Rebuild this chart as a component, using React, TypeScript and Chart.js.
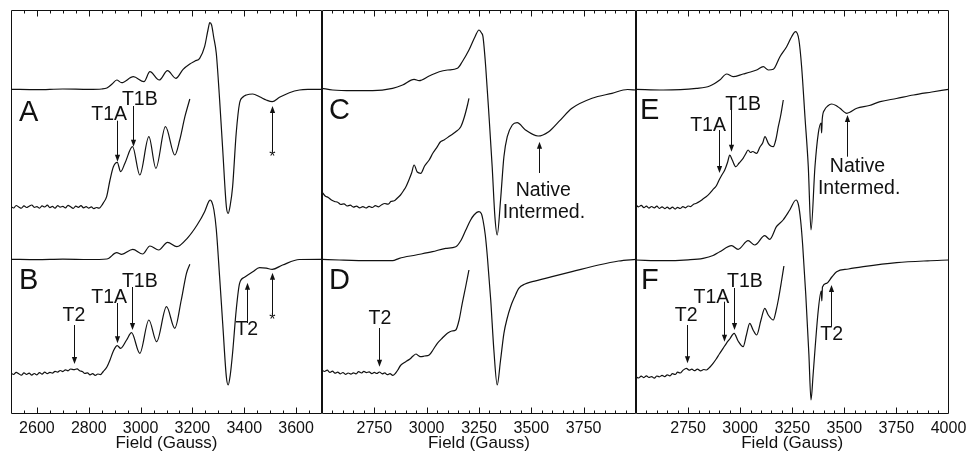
import React, { useEffect, useRef } from "react";
import { Chart, registerables } from "chart.js";

Chart.register(...registerables);

type Pt = [number, number];

// ---------- Panel 1 (spectra A and B), field in Gauss, signal in arbitrary units ----------
const A_FULL: Pt[] = [
  [2500, 325.7], [2600, 325.4], [2700, 326], [2800, 325.6], [2850, 326], [2870, 327],
  [2890, 331], [2908, 335], [2927, 332.3], [2972, 338.3], [3013, 333.3], [3036, 343.3],
  [3072, 335], [3104, 344.3], [3136, 336.7], [3164, 345.7], [3190, 351], [3210, 354],
  [3228, 356.7], [3247, 368.3], [3260, 385], [3267, 392.3], [3274, 390], [3282, 378],
  [3292, 362], [3305, 315], [3317, 265], [3331, 208.3], [3338, 201.7], [3346, 210],
  [3355, 228], [3369, 282], [3382, 312], [3395, 318], [3408, 320], [3433, 321],
  [3459, 318.3], [3485, 315], [3508, 313.3], [3536, 317.7], [3574, 322.3], [3613, 325],
  [3650, 325.6], [3700, 325.7],
];
const A_EXPANDED: Pt[] = [
  [2500, 208.5], [2510, 207], [2520, 209.5], [2530, 208], [2540, 206.8], [2550, 209.2],
  [2560, 207.5], [2570, 208.8], [2580, 210], [2590, 207.6], [2600, 208.4], [2610, 206.9],
  [2620, 209.1], [2630, 208], [2640, 209.8], [2650, 207.4], [2660, 208.6], [2670, 206.8],
  [2680, 209.4], [2690, 207.9], [2700, 208.7], [2710, 207.1], [2720, 209.6], [2730, 208.2],
  [2740, 206.6], [2750, 208.9], [2760, 207.7], [2770, 209.3], [2780, 207.2], [2790, 208.4],
  [2800, 206.9], [2810, 208.1], [2820, 206.3], [2830, 207.5], [2840, 206.8], [2850, 209.5],
  [2856, 212], [2869, 218.3], [2882, 235], [2895, 248.3], [2910, 252.7], [2923, 243.3],
  [2940, 252], [2969, 268.3], [2997, 240], [3032, 278.3], [3059, 246.7], [3096, 288.3],
  [3132, 260], [3151, 275], [3171, 298.3], [3190, 316],
];
const B_FULL: Pt[] = [
  [2500, 155.7], [2600, 155.4], [2700, 155.9], [2800, 155.5], [2870, 156], [2908, 162.3],
  [2927, 160.7], [2970, 165.7], [3008, 161], [3036, 169], [3070, 165], [3104, 172.7],
  [3140, 168.3], [3180, 176.7], [3218, 190], [3247, 203.3], [3262, 213], [3268, 215],
  [3275, 213], [3283, 205], [3292, 186], [3305, 138], [3317, 91], [3331, 38], [3338, 30],
  [3346, 40], [3355, 62], [3369, 105], [3382, 131.7], [3401, 137.7], [3433, 143.3],
  [3459, 147.3], [3485, 146.8], [3508, 145.7], [3548, 150], [3613, 155.5], [3700, 155.7],
];
const B_EXPANDED: Pt[] = [
  [2500, 42], [2510, 40.5], [2520, 42.6], [2530, 41.2], [2540, 39.8], [2550, 42.1],
  [2560, 40.6], [2570, 41.9], [2580, 39.9], [2590, 41.5], [2600, 40.2], [2610, 42.4],
  [2620, 40.8], [2630, 42.9], [2640, 41.3], [2650, 42.6], [2660, 41.8], [2670, 43.7],
  [2680, 42.9], [2690, 44.5], [2700, 43.4], [2710, 45.2], [2720, 44.1], [2730, 46],
  [2743, 45.3], [2755, 46.2], [2765, 44.3], [2775, 43.5], [2785, 41.6], [2795, 42.2],
  [2805, 40.1], [2815, 41.3], [2825, 39.7], [2835, 41], [2845, 40.4], [2856, 43.5],
  [2870, 48], [2882, 55], [2895, 64], [2910, 69.3], [2923, 66.7], [2946, 75], [2965, 82.3],
  [2997, 61.7], [3032, 95], [3062, 73.3], [3100, 108.3], [3132, 86.7], [3157, 115],
  [3177, 141.7], [3190, 150.7],
];

// ---------- Panel 2 (spectra C and D) ----------
const C_FULL: Pt[] = [
  [2500, 326.7], [2551, 325], [2647, 324.3], [2742, 324.3], [2837, 326.7], [2885, 330],
  [2940, 335.7], [2964, 334.3], [3012, 339], [3060, 343.3], [3100, 345], [3147, 346.7],
  [3170, 353.3], [3202, 365], [3231, 378.3], [3250, 385], [3262, 382], [3269, 378.3],
  [3282, 348.3], [3298, 298.3], [3313, 248.3], [3326, 198.3], [3337, 180], [3353, 215],
  [3369, 258.3], [3385, 278.3], [3409, 290], [3432, 292.3], [3472, 285], [3532, 279],
  [3583, 283.3], [3631, 293.3], [3694, 306.7], [3790, 316.7], [3885, 321.7], [3960, 325.5],
  [4000, 325],
];
const C_EXPANDED: Pt[] = [
  [2500, 223], [2515, 219], [2530, 217.5], [2545, 215], [2560, 213.5], [2575, 212.8],
  [2590, 210.5], [2605, 211.2], [2620, 209], [2635, 209.8], [2650, 207.9], [2665, 208.8],
  [2680, 207.2], [2695, 208.4], [2710, 207], [2725, 208.6], [2740, 207.5], [2755, 209.3],
  [2770, 208.2], [2785, 210.3], [2800, 211.5], [2815, 210.8], [2830, 213.6], [2845, 214.2],
  [2860, 217], [2875, 220], [2890, 224.5], [2901, 228.3], [2915, 235], [2928, 242],
  [2940, 250], [2955, 243], [2972, 241.7], [2990, 249], [3012, 255], [3030, 262],
  [3051, 268.3], [3065, 273], [3083, 275], [3110, 279], [3139, 283.3], [3163, 288.3],
  [3180, 298], [3195, 310], [3202, 316.7],
];
const D_FULL: Pt[] = [
  [2500, 155.7], [2583, 155], [2726, 154.3], [2837, 154.3], [2869, 156.7], [2949, 160],
  [3028, 163.3], [3091, 166.7], [3139, 168.3], [3165, 175], [3187, 185], [3210, 195],
  [3226, 200], [3250, 203.3], [3262, 201], [3269, 195], [3280, 180], [3290, 158.3],
  [3306, 115], [3321, 65], [3337, 30], [3353, 55], [3369, 81.7], [3385, 97], [3401, 108.3],
  [3420, 118], [3440, 126.7], [3470, 131], [3504, 133.3], [3599, 138.3], [3694, 143.3],
  [3821, 150], [3917, 154], [4000, 155.7],
];
const D_EXPANDED: Pt[] = [
  [2500, 45], [2512, 43.5], [2525, 44.8], [2538, 42.6], [2550, 43.9], [2562, 41.8],
  [2575, 42.9], [2588, 41.2], [2600, 42.5], [2612, 40.6], [2625, 42], [2638, 40.9],
  [2650, 42.2], [2662, 41.1], [2675, 43.3], [2688, 42], [2700, 43.6], [2712, 42.4],
  [2725, 43.1], [2738, 41.3], [2750, 42.6], [2762, 41.5], [2774, 43], [2788, 41.2],
  [2800, 42.1], [2812, 40.3], [2825, 41.4], [2838, 39.7], [2850, 41.5], [2862, 45],
  [2875, 49.5], [2890, 52], [2905, 54], [2920, 56], [2935, 59], [2949, 61], [2960, 59.5],
  [2972, 58.3], [2990, 59], [3012, 60], [3030, 65], [3051, 71.7], [3075, 77], [3099, 81.7],
  [3120, 84], [3139, 85], [3155, 95], [3170, 111.7], [3186, 128], [3202, 145],
];

// ---------- Panel 3 (spectra E and F) ----------
const E_FULL: Pt[] = [
  [2500, 325.7], [2630, 325], [2790, 326.7], [2854, 329], [2902, 335], [2935, 341],
  [2966, 338.3], [3014, 341], [3050, 343], [3079, 345], [3111, 348.3], [3135, 345],
  [3159, 345.7], [3191, 358.3], [3223, 368.3], [3247, 378.3], [3266, 383.3], [3282, 375],
  [3295, 348.3], [3311, 298.3], [3327, 248.3], [3340, 185], [3359, 248.3], [3375, 281.7],
  [3388, 292], [3391, 282], [3394, 296], [3405, 305], [3420, 309], [3439, 311],
  [3460, 309.5], [3479, 306.7], [3512, 301.7], [3560, 306.7], [3620, 309.5], [3672, 313.3],
  [3750, 316.5], [3832, 320], [3920, 323], [4000, 325.7],
];
const E_EXPANDED: Pt[] = [
  [2500, 210], [2512, 208.2], [2525, 209.6], [2538, 207.4], [2550, 208.8], [2562, 206.9],
  [2575, 208.5], [2588, 207.1], [2600, 208.9], [2612, 206.6], [2625, 208.2], [2638, 206.4],
  [2650, 207.9], [2662, 206.1], [2675, 207.8], [2688, 205.9], [2700, 207.7], [2712, 206.5],
  [2725, 208.3], [2738, 207.2], [2750, 209], [2762, 208.4], [2775, 210.6], [2790, 211.7],
  [2805, 213.4], [2820, 215.8], [2835, 218], [2854, 221.7], [2870, 225.6], [2885, 229],
  [2899, 235], [2912, 240], [2926, 245], [2940, 253], [2950, 260], [2962, 255],
  [2979, 248.3], [2995, 252], [3014, 256.7], [3026, 261], [3038, 265], [3050, 262.5],
  [3060, 263.5], [3079, 261.7], [3095, 268], [3108, 272], [3119, 278.3], [3135, 271.7],
  [3147, 269], [3159, 268.3], [3172, 276], [3183, 288.3], [3195, 300], [3207, 315],
];
const F_FULL: Pt[] = [
  [2500, 155], [2630, 154.3], [2750, 155.2], [2822, 156.7], [2870, 159.5], [2902, 163.3],
  [2959, 169.3], [2990, 165.7], [3038, 174.3], [3070, 170], [3118, 179.3], [3142, 175.7],
  [3174, 188.3], [3206, 195], [3238, 205], [3268, 215], [3280, 210], [3290, 195],
  [3300, 170], [3315, 120], [3330, 60], [3340, 15], [3350, 40], [3359, 65], [3375, 105],
  [3389, 124], [3392, 114], [3395, 128], [3415, 131.7], [3440, 138], [3463, 143.3],
  [3520, 146], [3591, 148.3], [3751, 152.3], [3900, 154.2], [4000, 155],
];
const F_EXPANDED: Pt[] = [
  [2500, 38.3], [2512, 37], [2525, 38.9], [2538, 37.4], [2550, 39.2], [2562, 37.5],
  [2575, 38.4], [2588, 36.9], [2600, 39], [2612, 38.2], [2625, 39.6], [2638, 38.3],
  [2650, 40.2], [2662, 39.1], [2675, 41.3], [2688, 40.5], [2700, 42.8], [2712, 42],
  [2725, 44.6], [2742, 46.7], [2755, 44.8], [2768, 45.9], [2780, 44.3], [2795, 45.8],
  [2810, 44.1], [2825, 45.5], [2838, 45], [2855, 48], [2870, 51.7], [2885, 56], [2900, 61],
  [2918, 66.7], [2934, 71.7], [2950, 76], [2971, 81.7], [2990, 74], [3014, 68.3],
  [3030, 80], [3046, 91.7], [3062, 85], [3079, 80], [3100, 95], [3118, 106.7], [3135, 100],
  [3159, 95], [3172, 104], [3183, 115], [3197, 132], [3210, 149],
];

// ---------- Axis ranges and tick labels ----------
const P1_RANGE: [number, number] = [2500, 3700];
const P2_RANGE: [number, number] = [2500, 4000];
const P3_RANGE: [number, number] = [2500, 4000];
const P1_TICK_LABELS = [2600, 2800, 3000, 3200, 3400, 3600];
const P2_TICK_LABELS = [2750, 3000, 3250, 3500, 3750];
const P3_TICK_LABELS = [2750, 3000, 3250, 3500, 3750, 4000];
const MINOR_STEP = 50;

// ---------- Annotations: [text, field, level] and arrows: [field, from, to(head)] ----------
type Txt = [string, number, number];
type Arr = [number, number, number];
const P1_LETTERS: Txt[] = [["A", 2568, 303.5], ["B", 2568, 135]];
const P1_LABELS: Txt[] = [
  ["T1A", 2879, 301.7], ["T1B", 2997, 316.7], ["T2", 2743, 100],
  ["T1A", 2879, 118.3], ["T1B", 2997, 134.3], ["T2", 3410, 86.7],
];
const P1_ARROWS: Arr[] = [
  [2910, 294.3, 253.3], [2969, 309, 268.3], [3508, 263, 309],
  [2743, 90, 51], [2910, 112, 71.7], [2965, 128, 85], [3410, 92, 132.3], [3508, 100, 142.3],
];
const P1_STARS: Txt[] = [["*", 3508, 263], ["*", 3508, 100]];

const P2_LETTERS: Txt[] = [["C", 2583, 305], ["D", 2583, 135]];
const P2_LABELS: Txt[] = [["Native", 3557, 225], ["Intermed.", 3560, 203], ["T2", 2777, 97]];
const P2_ARROWS: Arr[] = [[3536, 242, 273.3], [2774, 87, 48.3]];
const P2_STARS: Txt[] = [];

const P3_LETTERS: Txt[] = [["E", 2566, 305], ["F", 2566, 135]];
const P3_LABELS: Txt[] = [
  ["T1A", 2846, 290], ["T1B", 3014, 311], ["Native", 3563, 249.3], ["Intermed.", 3571, 227],
  ["T2", 2741, 100], ["T1A", 2862, 118.3], ["T1B", 3023, 134.3], ["T2", 3439, 81],
];
const P3_ARROWS: Arr[] = [
  [2899, 285, 242], [2955, 306.7, 263.3], [3512, 258.3, 300],
  [2744, 90, 51.7], [2922, 113.3, 73.3], [2971, 127, 85], [3434, 88.3, 130],
];
const P3_STARS: Txt[] = [];

const FONT = '"Liberation Sans", Arial, Helvetica, sans-serif';
const INK = "#111111";
const W = 967;
const H = 452;

interface PanelSpec {
  range: [number, number];
  tickLabels: number[];
  traces: Pt[][];
  letters: Txt[];
  labels: Txt[];
  arrows: Arr[];
  stars: Txt[];
  left: number;
  right: number;
}

const PANELS: PanelSpec[] = [
  { range: P1_RANGE, tickLabels: P1_TICK_LABELS, traces: [A_FULL, A_EXPANDED, B_FULL, B_EXPANDED],
    letters: P1_LETTERS, labels: P1_LABELS, arrows: P1_ARROWS, stars: P1_STARS, left: 11, right: 322 },
  { range: P2_RANGE, tickLabels: P2_TICK_LABELS, traces: [C_FULL, C_EXPANDED, D_FULL, D_EXPANDED],
    letters: P2_LETTERS, labels: P2_LABELS, arrows: P2_ARROWS, stars: P2_STARS, left: 322, right: 636 },
  { range: P3_RANGE, tickLabels: P3_TICK_LABELS, traces: [E_FULL, E_EXPANDED, F_FULL, F_EXPANDED],
    letters: P3_LETTERS, labels: P3_LABELS, arrows: P3_ARROWS, stars: P3_STARS, left: 636, right: 948.5 },
];

function decorPlugin(p: PanelSpec) {
  return {
    id: "decor",
    afterDraw(chart: any) {
      const { ctx, chartArea: a } = chart;
      const xs = chart.scales.x;
      const ys = chart.scales.y;
      ctx.save();
      ctx.strokeStyle = INK;
      ctx.fillStyle = INK;
      ctx.lineWidth = 1;
      // frame
      const L = Math.round(a.left) + 0.5;
      const R = Math.round(a.right) - 0.5;
      const T = Math.round(a.top) + 0.5;
      const B = Math.round(a.bottom) - 0.5;
      ctx.beginPath();
      ctx.rect(L, T, R - L, B - T);
      ctx.stroke();
      // inward ticks on top and bottom
      ctx.beginPath();
      for (const t of xs.ticks) {
        const px = Math.round(xs.getPixelForValue(t.value)) + 0.5;
        if (px <= L + 1 || px >= R - 1) continue;
        const len = p.tickLabels.includes(t.value) ? 6 : 3;
        ctx.moveTo(px, B);
        ctx.lineTo(px, B - len);
        ctx.moveTo(px, T);
        ctx.lineTo(px, T + len);
      }
      ctx.stroke();
      // letters
      ctx.textAlign = "center";
      ctx.textBaseline = "middle";
      ctx.font = `29px ${FONT}`;
      for (const [s, f, v] of p.letters) {
        ctx.fillText(s, xs.getPixelForValue(f), ys.getPixelForValue(v) + 1);
      }
      ctx.font = `19.5px ${FONT}`;
      for (const [s, f, v] of p.labels) {
        ctx.fillText(s, xs.getPixelForValue(f), ys.getPixelForValue(v) + 1);
      }
      // arrows
      for (const [f, from, to] of p.arrows) {
        const px = Math.round(xs.getPixelForValue(f)) + 0.5;
        const y0 = ys.getPixelForValue(from);
        const y1 = ys.getPixelForValue(to);
        const dir = Math.sign(y1 - y0);
        ctx.beginPath();
        ctx.moveTo(px, y0);
        ctx.lineTo(px, y1 - dir * 5);
        ctx.stroke();
        ctx.beginPath();
        ctx.moveTo(px, y1);
        ctx.lineTo(px - 2.6, y1 - dir * 7);
        ctx.lineTo(px + 2.6, y1 - dir * 7);
        ctx.closePath();
        ctx.fill();
      }
      // stars
      ctx.font = `16px ${FONT}`;
      ctx.textBaseline = "top";
      for (const [s, f, v] of p.stars) {
        ctx.fillText(s, xs.getPixelForValue(f), ys.getPixelForValue(v) - 2);
      }
      ctx.restore();
    },
  };
}

function makeChart(canvas: HTMLCanvasElement, p: PanelSpec) {
  return new Chart(canvas, {
    type: "line",
    data: {
      datasets: p.traces.map((tr) => ({
        data: tr.map(([x, y]) => ({ x, y })),
        borderColor: INK,
        borderWidth: 1.2,
        pointRadius: 0,
        fill: false,
        cubicInterpolationMode: "monotone" as const,
      })),
    },
    options: {
      animation: false,
      responsive: false,
      events: [],
      layout: { padding: { left: p.left, right: W - p.right, top: 10, bottom: 0 } },
      plugins: { legend: { display: false }, tooltip: { enabled: false }, title: { display: false } },
      scales: {
        x: {
          type: "linear",
          min: p.range[0],
          max: p.range[1],
          afterFit: (s: any) => {
            s.height = 38;
          },
          grid: { display: false },
          border: { display: false },
          ticks: {
            stepSize: MINOR_STEP,
            autoSkip: false,
            maxRotation: 0,
            minRotation: 0,
            padding: -3,
            color: INK,
            font: { family: FONT, size: 16 },
            callback: (v: any) => (p.tickLabels.includes(Number(v)) ? String(v) : ""),
          },
          title: {
            display: true,
            text: "Field (Gauss)",
            color: INK,
            font: { family: FONT, size: 17 },
            padding: { top: 0, bottom: -1.5 },
          },
        },
        y: { type: "linear", display: false, min: 1, max: 405 },
      },
    },
    plugins: [decorPlugin(p)],
  } as any);
}

export default function App() {
  const r1 = useRef<HTMLCanvasElement>(null);
  const r2 = useRef<HTMLCanvasElement>(null);
  const r3 = useRef<HTMLCanvasElement>(null);
  useEffect(() => {
    const refs = [r1, r2, r3];
    const charts = refs.map((r, i) => makeChart(r.current as HTMLCanvasElement, PANELS[i]));
    return () => charts.forEach((c) => c.destroy());
  }, []);
  const style: React.CSSProperties = { position: "absolute", left: 0, top: 0, width: W, height: H };
  return (
    <div style={{ position: "absolute", left: 0, top: 0, width: W, height: H, background: "#fff" }}>
      <canvas ref={r1} width={W} height={H} style={style} />
      <canvas ref={r2} width={W} height={H} style={style} />
      <canvas ref={r3} width={W} height={H} style={style} />
    </div>
  );
}
